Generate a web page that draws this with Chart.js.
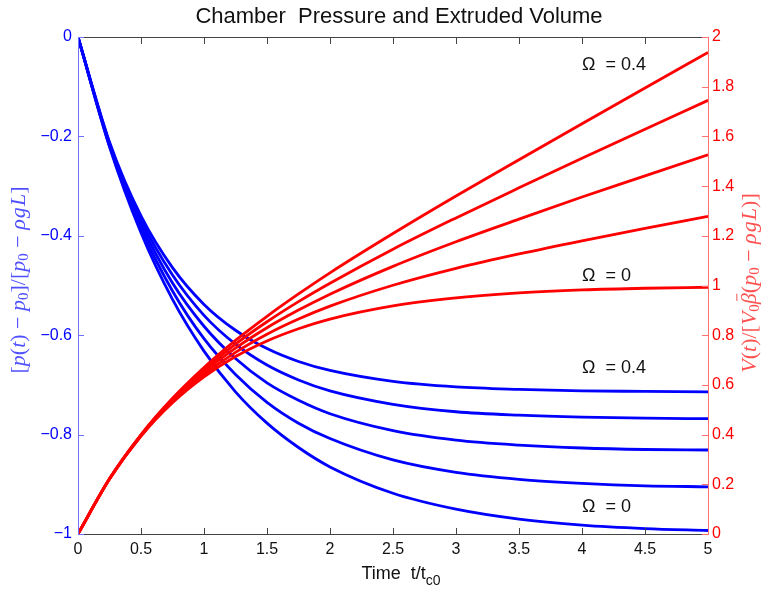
<!DOCTYPE html>
<html>
<head>
<meta charset="utf-8">
<script src="https://cdn.jsdelivr.net/npm/chart.js@4/dist/chart.umd.min.js"></script>
<style>
  html, body { margin: 0; padding: 0; background: #fff; }
  #wrap { width: 763px; height: 594px; }
</style>
</head>
<body>
<div id="wrap"><canvas id="chart" width="763" height="594"></canvas></div>
<script>
// time axis t/tc0
const tValues = [0, 0.25, 0.5, 0.75, 1, 1.25, 1.5, 1.75, 2, 2.5, 3, 3.5, 4, 4.5, 5];

// chamber pressure, one curve per Omega (0 .. 0.4)
const pressOmega0  = [0, -0.221, -0.394, -0.528, -0.632, -0.714, -0.777, -0.826, -0.865, -0.918, -0.950, -0.970, -0.982, -0.989, -0.993];
const pressOmega01 = [0, -0.219, -0.385, -0.511, -0.607, -0.679, -0.735, -0.777, -0.808, -0.851, -0.876, -0.890, -0.898, -0.903, -0.905];
const pressOmega02 = [0, -0.216, -0.376, -0.495, -0.582, -0.647, -0.696, -0.731, -0.758, -0.792, -0.811, -0.821, -0.827, -0.830, -0.831];
const pressOmega03 = [0, -0.214, -0.368, -0.479, -0.560, -0.618, -0.660, -0.690, -0.712, -0.739, -0.754, -0.761, -0.765, -0.767, -0.768];
const pressOmega04 = [0, -0.211, -0.360, -0.464, -0.538, -0.590, -0.627, -0.653, -0.671, -0.693, -0.704, -0.709, -0.712, -0.713, -0.714];

// extruded volume, one curve per Omega
const volOmega0  = [0, 0.221, 0.394, 0.528, 0.632, 0.714, 0.777, 0.826, 0.865, 0.918, 0.950, 0.970, 0.982, 0.989, 0.993];
const volOmega01 = [0, 0.221, 0.395, 0.533, 0.642, 0.731, 0.804, 0.865, 0.917, 1.001, 1.069, 1.127, 1.180, 1.230, 1.278];
const volOmega02 = [0, 0.222, 0.397, 0.537, 0.652, 0.748, 0.830, 0.901, 0.965, 1.077, 1.176, 1.267, 1.356, 1.441, 1.526];
const volOmega03 = [0, 0.222, 0.398, 0.542, 0.661, 0.764, 0.854, 0.935, 1.009, 1.146, 1.272, 1.393, 1.512, 1.629, 1.745];
const volOmega04 = [0, 0.222, 0.400, 0.546, 0.670, 0.779, 0.876, 0.966, 1.051, 1.209, 1.360, 1.506, 1.651, 1.795, 1.938];

const pressureSeries = [pressOmega0, pressOmega01, pressOmega02, pressOmega03, pressOmega04];
const volumeSeries = [volOmega0, volOmega01, volOmega02, volOmega03, volOmega04];

// curve labels, anchored in (t, right-axis value)
const noteTexts = ['\u03A9  = 0.4', '\u03A9  = 0', '\u03A9  = 0.4', '\u03A9  = 0'];
const noteT = [4.0, 4.0, 4.0, 4.0];
const noteV = [1.887, 1.038, 0.668, 0.109];

const BLUE = '#0000ff';
const RED = '#ff0000';

function toPoints(ys) {
  return ys.map((y, i) => ({ x: tValues[i], y: y }));
}

function fmt(v) {
  const r = Math.round(v * 10) / 10;
  return String(r).replace('-', '\u2212');
}

const datasets = [];
volumeSeries.forEach((s, i) => {
  datasets.push({
    label: 'V' + i, data: toPoints(s), yAxisID: 'y1',
    borderColor: RED, borderWidth: 2.8, pointRadius: 0,
    showLine: true, fill: false, cubicInterpolationMode: 'monotone', order: 1
  });
});
pressureSeries.forEach((s, i) => {
  datasets.push({
    label: 'p' + i, data: toPoints(s), yAxisID: 'y',
    borderColor: BLUE, borderWidth: 2.8, pointRadius: 0,
    showLine: true, fill: false, cubicInterpolationMode: 'monotone', order: 2
  });
});

// draw a run of text pieces: [text, style] with style 'i' italic, 'r' roman, 's' subscript, 'gap' spacing
function drawRich(ctx, parts, size, family) {
  const fontFor = p => {
    if (p[1] === 'i') return 'italic ' + size + 'px ' + family;
    if (p[1] === 's') return Math.round(size * 0.7) + 'px ' + family;
    return size + 'px ' + family;
  };
  const widthOf = p => {
    if (p[1] === 'gap') return p[0] * size;
    ctx.font = fontFor(p);
    return ctx.measureText(p[0]).width;
  };
  const total = parts.reduce((a, p) => a + widthOf(p), 0);
  let x = -total / 2;
  parts.forEach(p => {
    const w = widthOf(p);
    if (p[1] !== 'gap') {
      ctx.font = fontFor(p);
      const dy = p[1] === 's' ? size * 0.25 : 0;
      ctx.fillText(p[0], x, dy);
      if (p[2] === 'bar') {
        ctx.fillRect(x + w * 0.3, -size * 0.62, w * 0.65, 1);
      }
    }
    x += w;
  });
}

const decorPlugin = {
  id: 'decor',
  afterDraw(chart) {
    const ctx = chart.ctx;
    const a = chart.chartArea;
    const sx = chart.scales.x, sy = chart.scales.y, sy1 = chart.scales.y1;
    ctx.save();

    // frame
    ctx.lineWidth = 1;
    ctx.strokeStyle = '#444';
    ctx.beginPath();
    ctx.moveTo(a.left, a.top + 0.5); ctx.lineTo(a.right, a.top + 0.5);
    ctx.moveTo(a.left, a.bottom + 0.5); ctx.lineTo(a.right, a.bottom + 0.5);
    sx.ticks.forEach(t => {
      const px = Math.round(sx.getPixelForValue(t.value)) + 0.5;
      ctx.moveTo(px, a.bottom); ctx.lineTo(px, a.bottom - 6);
      ctx.moveTo(px, a.top); ctx.lineTo(px, a.top + 7);
    });
    ctx.stroke();

    ctx.strokeStyle = '#7070ff';
    ctx.beginPath();
    ctx.moveTo(a.left + 0.5, a.top); ctx.lineTo(a.left + 0.5, a.bottom + 1);
    sy.ticks.forEach(t => {
      const py = Math.round(sy.getPixelForValue(t.value)) + 0.5;
      ctx.moveTo(a.left, py); ctx.lineTo(a.left + 6, py);
    });
    ctx.stroke();

    ctx.strokeStyle = '#ff7070';
    ctx.beginPath();
    ctx.moveTo(a.right + 0.5, a.top); ctx.lineTo(a.right + 0.5, a.bottom + 1);
    sy1.ticks.forEach(t => {
      const py = Math.round(sy1.getPixelForValue(t.value)) + 0.5;
      ctx.moveTo(a.right, py); ctx.lineTo(a.right - 6, py);
    });
    ctx.stroke();

    // title
    ctx.fillStyle = '#111';
    ctx.textAlign = 'center';
    ctx.textBaseline = 'alphabetic';
    ctx.font = '22px "Liberation Sans", Arial, sans-serif';
    ctx.fillText('Chamber  Pressure and Extruded Volume', 399, 23);

    // x axis title with subscript
    ctx.textAlign = 'left';
    ctx.font = '18px "Liberation Sans", Arial, sans-serif';
    const main = 'Time  t/t';
    const wMain = ctx.measureText(main).width;
    ctx.font = '14px "Liberation Sans", Arial, sans-serif';
    const wSub = ctx.measureText('c0').width;
    const x0 = 401 - (wMain + wSub) / 2;
    ctx.font = '18px "Liberation Sans", Arial, sans-serif';
    ctx.fillText(main, x0, 579);
    ctx.font = '14px "Liberation Sans", Arial, sans-serif';
    ctx.fillText('c0', x0 + wMain, 585);

    // curve notes
    ctx.font = '18px "Liberation Sans", Arial, sans-serif';
    ctx.textBaseline = 'middle';
    noteTexts.forEach((txt, i) => {
      ctx.fillText(txt, sx.getPixelForValue(noteT[i]), sy1.getPixelForValue(noteV[i]));
    });

    // y axis titles
    const serif = '"Liberation Serif", "DejaVu Serif", serif';
    ctx.textAlign = 'left';
    ctx.textBaseline = 'middle';
    ctx.save();
    ctx.translate(19, 280);
    ctx.rotate(-Math.PI / 2);
    ctx.fillStyle = '#5050ff';
    drawRich(ctx, [
      ['[', 'r'], ['p', 'i'], ['(', 'r'], ['t', 'i'], [')', 'r'], [0.25, 'gap'], ['\u2212', 'r'], [0.25, 'gap'],
      ['p', 'i'], ['0', 's'], [']/[', 'r'], ['p', 'i'], ['0', 's'], [0.25, 'gap'], ['\u2212', 'r'], [0.25, 'gap'],
      ['\u03C1', 'i'], [0.05, 'gap'], ['g', 'i'], [0.05, 'gap'], ['L', 'i'], [']', 'r']
    ], 22, serif);
    ctx.restore();

    ctx.save();
    ctx.translate(750, 283);
    ctx.rotate(-Math.PI / 2);
    ctx.fillStyle = '#ff5050';
    drawRich(ctx, [
      ['V', 'i'], ['(', 'r'], ['t', 'i'], [')/[', 'r'], ['V', 'i'], ['0', 's'], ['\u03B2', 'i', 'bar'], ['(', 'r'],
      ['p', 'i'], ['0', 's'], [0.25, 'gap'], ['\u2212', 'r'], [0.25, 'gap'],
      ['\u03C1', 'i'], [0.05, 'gap'], ['g', 'i'], [0.05, 'gap'], ['L', 'i'], [')]', 'r']
    ], 22, serif);
    ctx.restore();

    ctx.restore();
  }
};

const tickFont = { family: '"Liberation Sans", Arial, sans-serif', size: 16 };

new Chart(document.getElementById('chart'), {
  type: 'scatter',
  data: { datasets: datasets },
  options: {
    responsive: false,
    animation: false,
    layout: { padding: { top: 37, left: 0, right: 0, bottom: 0 } },
    plugins: { legend: { display: false }, tooltip: { enabled: false }, title: { display: false } },
    scales: {
      x: {
        type: 'linear', min: 0, max: 5,
        grid: { display: false, drawTicks: false },
        border: { display: false },
        ticks: { stepSize: 0.5, color: '#111', font: tickFont, padding: 6, maxRotation: 0, callback: v => fmt(v) },
        afterFit: s => { s.height = 60; }
      },
      y: {
        type: 'linear', position: 'left', min: -1, max: 0,
        grid: { display: false, drawTicks: false },
        border: { display: false },
        ticks: { stepSize: 0.2, color: BLUE, font: tickFont, padding: 6, callback: v => fmt(v) },
        afterFit: s => { s.width = 78; }
      },
      y1: {
        type: 'linear', position: 'right', min: 0, max: 2,
        grid: { display: false, drawTicks: false },
        border: { display: false },
        ticks: { stepSize: 0.2, color: RED, font: tickFont, padding: 4, callback: v => fmt(v) },
        afterFit: s => { s.width = 55; }
      }
    }
  },
  plugins: [decorPlugin]
});
</script>
</body>
</html>
